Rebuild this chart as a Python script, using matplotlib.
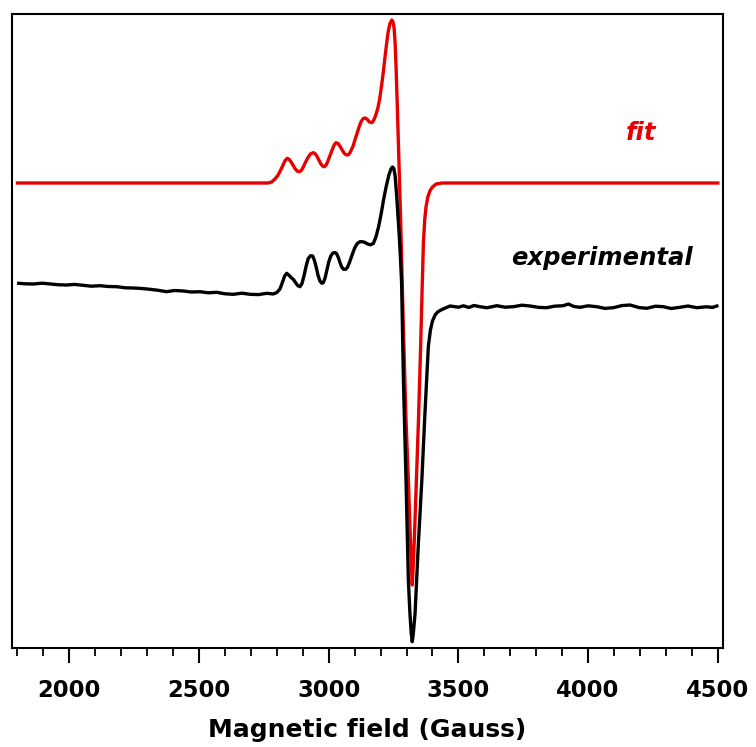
import matplotlib
matplotlib.use("Agg")
import matplotlib.pyplot as plt
from matplotlib.ticker import MultipleLocator

# Experimental spectrum (field in Gauss, intensity in arbitrary units)
exp_field = [1805, 1830, 1861, 1895, 1926, 1960, 1990, 2020, 2054, 2085, 2118, 2150,
             2183, 2215, 2247, 2280, 2311, 2340, 2375, 2405, 2440, 2470, 2504, 2535,
             2568, 2600, 2632, 2665, 2697, 2730, 2761, 2786, 2800, 2812, 2822, 2830,
             2838, 2846, 2855, 2864, 2872, 2880, 2889, 2897, 2905, 2913, 2921, 2930,
             2938, 2945, 2952, 2959, 2966, 2973, 2979, 2986, 2993, 3000, 3008, 3016,
             3024, 3030, 3037, 3044, 3050, 3057, 3065, 3072, 3080, 3090, 3100, 3110,
             3120, 3130, 3140, 3152, 3160, 3172, 3182, 3192, 3202, 3212, 3222, 3232,
             3240, 3246, 3251, 3256, 3262, 3267, 3272, 3277, 3281, 3288, 3298, 3307,
             3313, 3318, 3322, 3326, 3333, 3345, 3359, 3371, 3384, 3392, 3400, 3410,
             3420, 3429, 3445, 3468, 3500, 3520, 3540, 3560, 3583, 3610, 3648, 3680,
             3712, 3745, 3776, 3810, 3840, 3870, 3904, 3924, 3945, 3969, 4000, 4033,
             4065, 4097, 4130, 4162, 4195, 4226, 4260, 4290, 4320, 4354, 4385, 4419,
             4455, 4480, 4496]
exp_int = [364.7, 364.2, 364, 364.8, 364, 363.2, 363, 363.6, 362.7, 361.8, 362.3, 361.5,
           361.3, 360.2, 360, 359.5, 358.7, 357.8, 356.3, 357.5, 357, 356, 356.3, 355.2,
           355.7, 354.2, 353.7, 354.8, 353.7, 353.4, 354.7, 354, 355.5, 359, 366, 372,
           374.7, 373, 370.5, 368.5, 365.5, 362.5, 361.3, 364.5, 372.5, 382, 389.5, 392.3,
           392, 387.5, 380.5, 372.5, 367, 364.8, 365.3, 370, 378, 386, 392, 395,
           395.5, 394.5, 390.5, 385, 381, 378.7, 378.7, 380.5, 385.5, 393, 400, 404.5,
           406.3, 406.3, 405.5, 403.8, 403.2, 404.5, 411, 421, 434, 449, 462, 473,
           479, 481, 479.5, 472, 452, 432, 412, 388, 365, 268, 168, 68,
           35, 15, 6.3, 14, 35, 101.3, 168, 235, 301.3, 318, 327, 333,
           336, 337.5, 339.5, 342, 340.8, 342.2, 340.5, 342.5, 341.3, 340.2, 342.3, 340.8,
           341.3, 342.8, 342, 340.6, 340.3, 341.8, 342.3, 344, 341.5, 340.7, 342.2, 341.3,
           339.6, 340.3, 342.4, 343, 340.5, 339.7, 341.8, 341.3, 339.5, 340.7, 342, 340.3,
           341.2, 340.6, 342]

# Simulated fit (offset above the experimental trace)
fit_field = [1800, 2766, 2780, 2793, 2805, 2815, 2824, 2832, 2840, 2848, 2855, 2862,
             2870, 2879, 2887, 2894, 2901, 2910, 2920, 2930, 2941, 2948, 2955, 2963,
             2970, 2977, 2983, 2990, 2997, 3005, 3013, 3021, 3028, 3036, 3044, 3052,
             3059, 3066, 3073, 3080, 3086, 3094, 3101, 3109, 3117, 3125, 3133, 3140,
             3148, 3157, 3166, 3172, 3178, 3184, 3190, 3197, 3204, 3211, 3217, 3223,
             3229, 3236, 3243, 3248, 3252, 3256, 3260, 3264, 3268, 3272, 3277, 3281,
             3288, 3298, 3307, 3315, 3319, 3322, 3325, 3330, 3338, 3346, 3354, 3360,
             3365, 3370, 3375, 3382, 3390, 3400, 3414, 3437, 4500]
fit_int = [465, 465, 466, 469, 473, 478, 483, 487.5, 489.7, 488.5, 486, 483,
           479.5, 476.8, 476.3, 477.5, 480.5, 485.5, 490.5, 494.2, 495.3, 494.2, 491.5, 487.5,
           484, 481.8, 481.3, 483, 487, 492.5, 498, 503, 505.3, 504.5, 501.5, 498,
           495, 493.3, 493, 494.5, 497.5, 502, 508, 514.5, 521, 526.5, 529.5, 530,
           528.8, 526, 525.3, 527, 530.5, 535, 540.5, 550, 563, 577, 591, 604,
           616, 624.5, 628, 626, 620, 605, 578, 545, 510, 475, 430, 390,
           318, 228, 168, 108, 80, 63, 78, 108, 168, 228, 298, 358,
           405, 428, 441, 451, 457, 461, 464, 465, 465]

x_ticks = [2000, 2500, 3000, 3500, 4000, 4500]
x_label = "Magnetic field (Gauss)"
labels = ["fit", "experimental"]

plt.rcParams['font.family'] = ['DejaVu Sans']

fig = plt.figure(figsize=(7.56, 7.47), dpi=100)
ax = fig.add_axes([12/756, (747-648)/747, (723-12)/756, (648-14)/747])

red = '#e60000'
ax.plot(fit_field, fit_int, color=red, lw=2.4, solid_joinstyle='round')
ax.plot(exp_field, exp_int, color='black', lw=2.4, solid_joinstyle='round')

ax.set_xlim(1779, 4520)
ax.set_ylim(0, 634)
ax.set_yticks([])
ax.set_xticks(x_ticks)
ax.xaxis.set_minor_locator(MultipleLocator(100))
ax.tick_params(axis='x', which='major', direction='out', length=11, width=1.5,
               labelsize=16.3, pad=11)
ax.tick_params(axis='x', which='minor', direction='out', length=6, width=1.3)
for lab in ax.get_xticklabels():
    lab.set_fontweight('bold')
for s in ax.spines.values():
    s.set_linewidth(1.5)

ax.set_xlabel(x_label, fontsize=18, fontweight='bold', labelpad=12)

ax.text(4204, 515, labels[0], color=red, fontsize=17.5, fontweight='bold',
        fontstyle='italic', ha='center', va='center')
ax.text(4054, 390, labels[1], color='black', fontsize=17.5, fontweight='bold',
        fontstyle='italic', ha='center', va='center')

fig.savefig("out.png", dpi=100)
